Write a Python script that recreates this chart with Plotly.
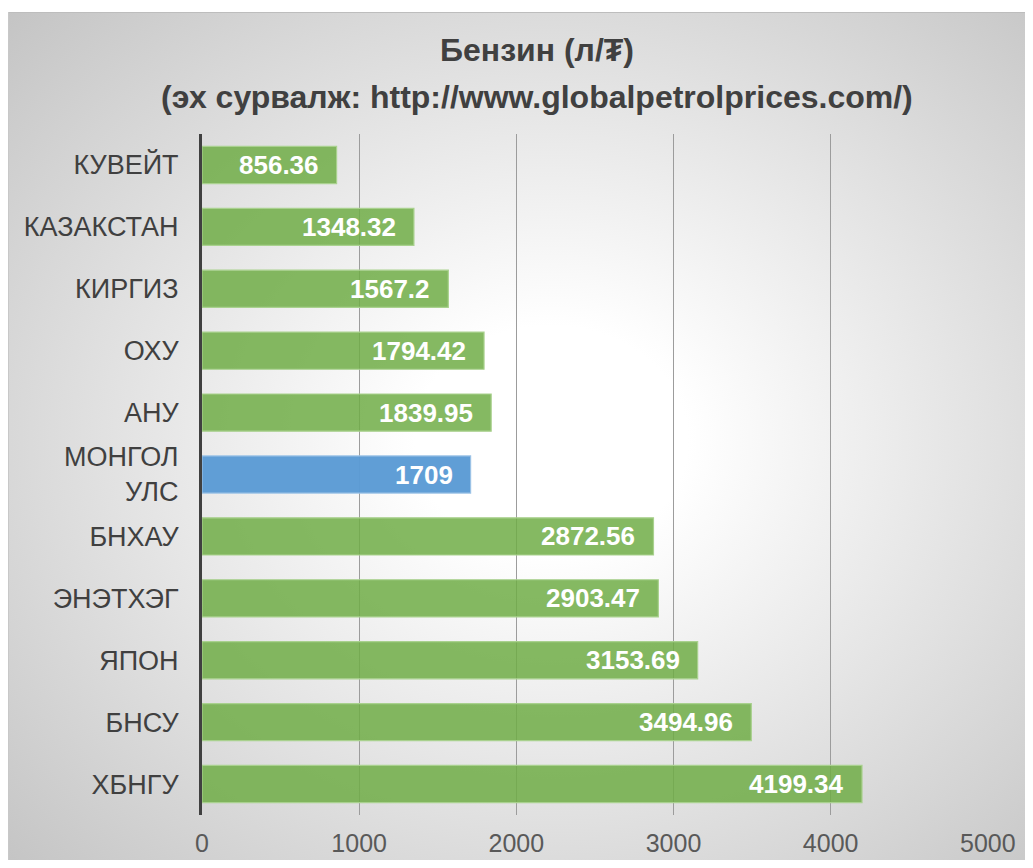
import base64
import plotly.graph_objects as go

# ---- data ----
countries = ["КУВЕЙТ", "КАЗАКСТАН", "КИРГИЗ", "ОХУ", "АНУ", "МОНГОЛ<br>УЛС",
             "БНХАУ", "ЭНЭТХЭГ", "ЯПОН", "БНСУ", "ХБНГУ"]
prices = [856.36, 1348.32, 1567.2, 1794.42, 1839.95, 1709,
          2872.56, 2903.47, 3153.69, 3494.96, 4199.34]
highlight = "МОНГОЛ<br>УЛС"
title_line1 = "Бензин (л/₮)"
title_line2 = "(эх сурвалж: http://www.globalpetrolprices.com/)"
x_ticks = [0, 1000, 2000, 3000, 4000, 5000]

# ---- geometry (figure pixels; page adds an 8px body margin) ----
W, H = 1017, 852
ML, MR, MT, MB = 194, 37, 126, 45
PW, PH = W - ML - MR, H - MT - MB

def px(x):
    return (x - ML) / PW

def py(y):
    return 1 - (y - MT) / PH

FONT = "Liberation Sans, Arial, sans-serif"
green_fill = "rgba(112,173,71,0.85)"
green_line = "rgba(169,209,142,1)"
blue_fill = "rgba(91,155,213,0.97)"
blue_line = "rgba(155,194,230,1)"

colors = [blue_fill if c == highlight else green_fill for c in countries]
lines = [blue_line if c == highlight else green_line for c in countries]

fig = go.Figure()
fig.add_trace(go.Bar(
    x=prices, y=countries, orientation="h", width=0.6,
    marker=dict(color=colors, line=dict(color=lines, width=1.2)),
    hoverinfo="x+y", showlegend=False,
))

# value labels (inside end)
for c, v in zip(countries, prices):
    fig.add_annotation(x=v, y=c, xref="x", yref="y", text=f"{v:g}",
                       xanchor="right", yanchor="middle", xshift=-16, showarrow=False,
                       font=dict(family=FONT, size=26, color="white", weight="bold"))

# titles
for txt, yy in [(title_line1, 42), (title_line2, 89)]:
    fig.add_annotation(x=px(529), y=py(yy), xref="paper", yref="paper", text=txt,
                       xanchor="center", yanchor="middle", showarrow=False,
                       font=dict(family=FONT, size=32, color="#404040", weight="bold"))

# radial gradient background
BW, BH = 1025, 856
svg = (f'<svg xmlns="http://www.w3.org/2000/svg" width="{BW}" height="{BH}" '
       f'viewBox="0 0 {BW} {BH}" preserveAspectRatio="none">'
       '<defs><radialGradient id="g" cx="0.53" cy="0.5" r="0.74">'
       '<stop offset="0" stop-color="#ffffff"/>'
       '<stop offset="0.18" stop-color="#ffffff"/>'
       '<stop offset="1" stop-color="#c3c3c3"/>'
       '</radialGradient></defs>'
       f'<rect width="{BW}" height="{BH}" fill="url(#g)"/></svg>')
src = "data:image/svg+xml;base64," + base64.b64encode(svg.encode()).decode()
fig.add_layout_image(source=src, xref="paper", yref="paper",
                     x=px(0), y=py(4), sizex=BW / PW, sizey=BH / PH,
                     xanchor="left", yanchor="top", sizing="stretch", layer="below")
# chart-area border (top and left edges)
fig.add_shape(type="line", xref="paper", yref="paper",
              x0=px(0), x1=px(W), y0=py(4.5), y1=py(4.5),
              line=dict(color="#bdbdbd", width=1), layer="below")
fig.add_shape(type="line", xref="paper", yref="paper",
              x0=px(0.5), x1=px(0.5), y0=py(4), y1=py(H),
              line=dict(color="#c8c8c8", width=1), layer="below")

fig.update_layout(
    width=W, height=H,
    margin=dict(l=ML, r=MR, t=MT, b=MB, pad=0, autoexpand=False),
    paper_bgcolor="white", plot_bgcolor="rgba(0,0,0,0)",
    font=dict(family=FONT),
    bargap=0.4,
    xaxis=dict(range=[0, 5001], tickvals=x_ticks, showgrid=True, automargin=False,
               gridcolor="#9c9c9c", gridwidth=1, zeroline=False, showline=False,
               ticks="", tickfont=dict(family=FONT, size=25, color="#595959"),
               ticklabelstandoff=11, fixedrange=True),
    yaxis=dict(autorange="reversed", showgrid=False, showline=True, automargin=False,
               linecolor="#404040", linewidth=3, ticks="",
               tickfont=dict(family=FONT, size=27, color="#404040"),
               ticklabelstandoff=15, fixedrange=True),
)

fig.write_html("out.html")
